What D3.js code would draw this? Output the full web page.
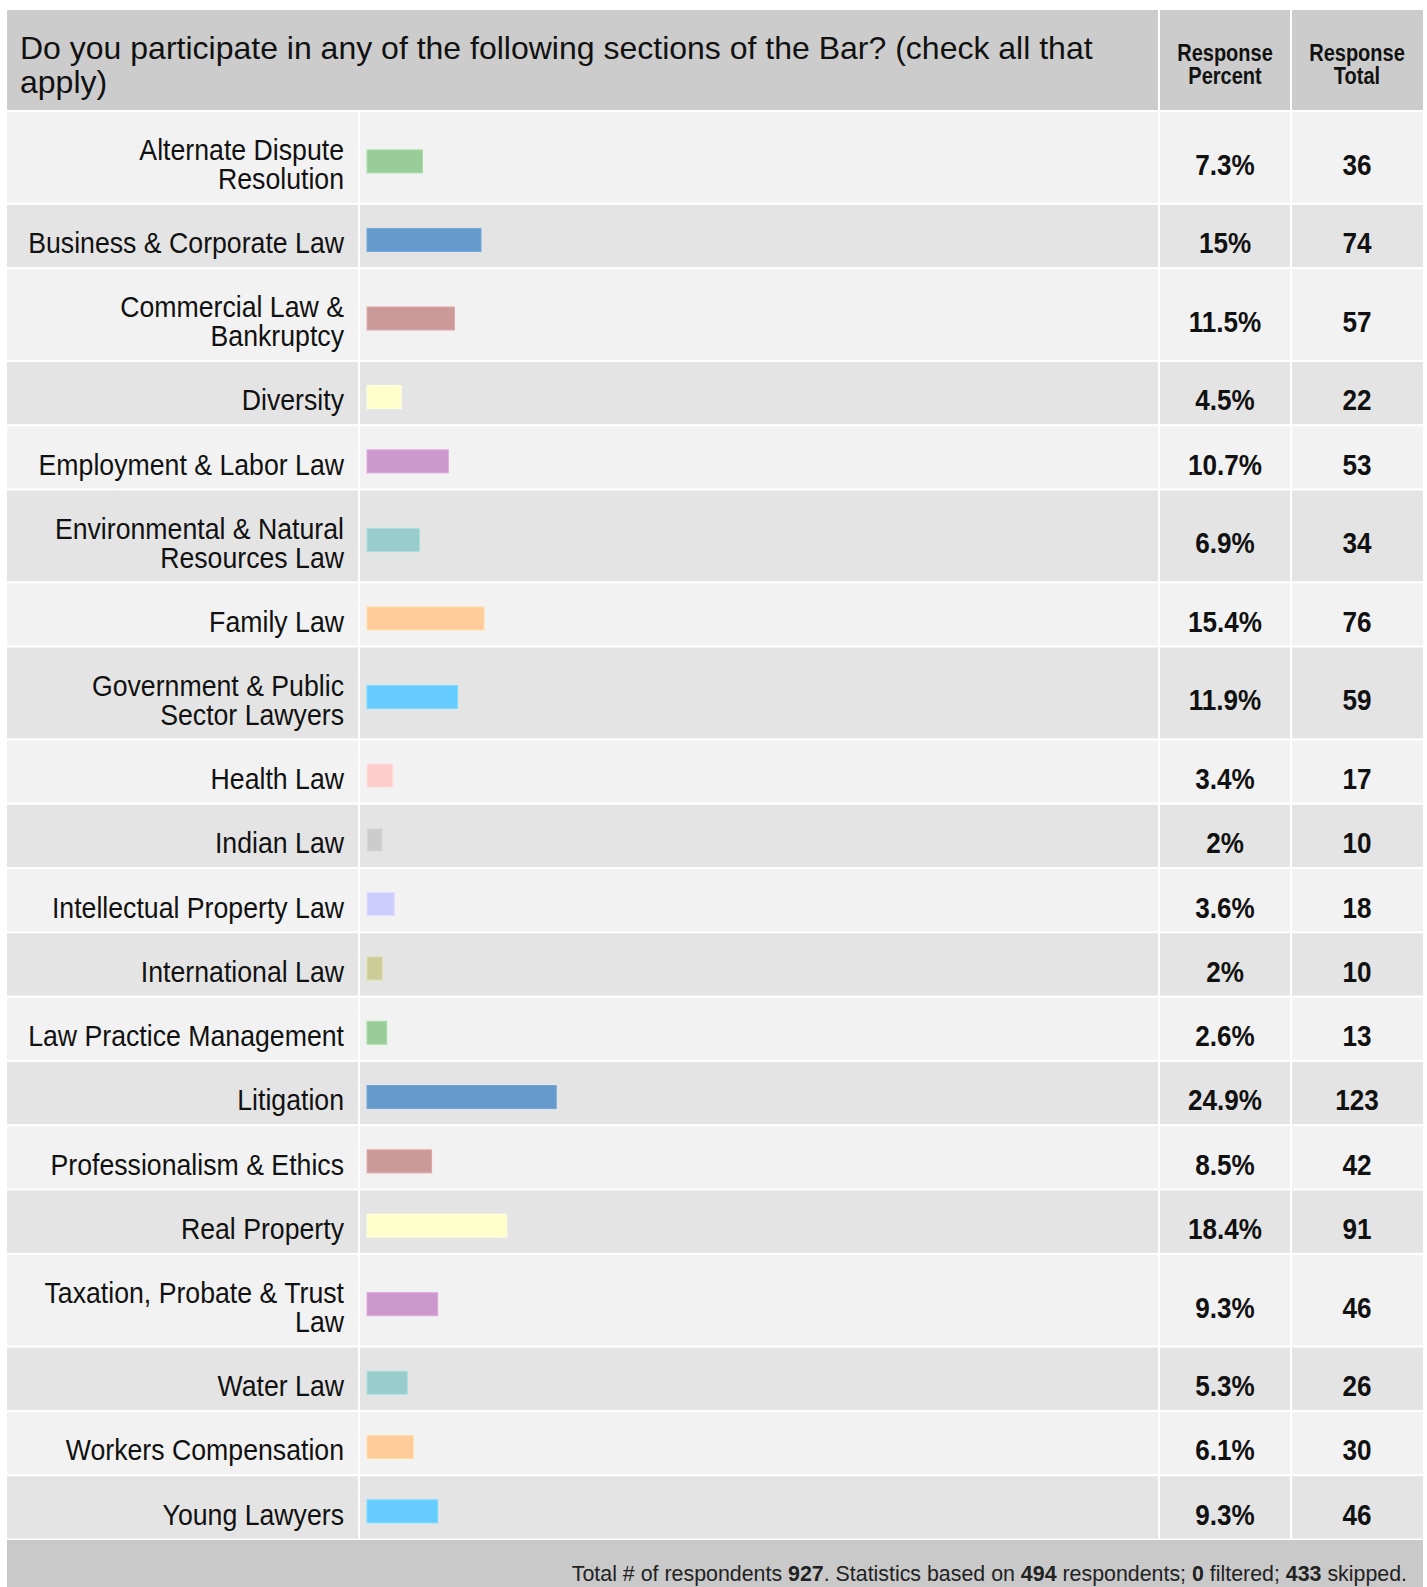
<!DOCTYPE html>
<html>
<head>
<meta charset="utf-8">
<script src="https://cdn.jsdelivr.net/npm/d3@7"></script>
<style>
  html, body { margin: 0; padding: 0; background: #ffffff; }
  svg { display: block; }
  text { font-family: "Liberation Sans", Arial, Helvetica, sans-serif; }
</style>
</head>
<body>
<svg id="chart" width="1427" height="1587"></svg>
<script>
// Survey question and its answer options
const question = "Do you participate in any of the following sections of the Bar? (check all that apply)";
const categories = [
  "Alternate Dispute Resolution",
  "Business & Corporate Law",
  "Commercial Law & Bankruptcy",
  "Diversity",
  "Employment & Labor Law",
  "Environmental & Natural Resources Law",
  "Family Law",
  "Government & Public Sector Lawyers",
  "Health Law",
  "Indian Law",
  "Intellectual Property Law",
  "International Law",
  "Law Practice Management",
  "Litigation",
  "Professionalism & Ethics",
  "Real Property",
  "Taxation, Probate & Trust Law",
  "Water Law",
  "Workers Compensation",
  "Young Lawyers"
];
// Response percent (share of 494 respondents)
const percents = [7.3, 15, 11.5, 4.5, 10.7, 6.9, 15.4, 11.9, 3.4, 2, 3.6, 2, 2.6, 24.9, 8.5, 18.4, 9.3, 5.3, 6.1, 9.3];
// Response totals (counts)
const totals = [36, 74, 57, 22, 53, 34, 76, 59, 17, 10, 18, 10, 13, 123, 42, 91, 46, 26, 30, 46];
// Column headings
const columnHeads = [["Response", "Percent"], ["Response", "Total"]];
// Footer summary, split into regular / bold runs
const footerRuns = [
  ["Total # of respondents ", false], ["927", true], [". Statistics based on ", false],
  ["494", true], [" respondents; ", false], ["0", true], [" filtered; ", false],
  ["433", true], [" skipped.", false]
];
// Bar palette, cycled through the rows
const palette = ["#99cc99", "#6699cc", "#cc9999", "#ffffcc", "#cc99cc", "#99cccc",
                 "#ffcc99", "#66ccff", "#ffcccc", "#cccccc", "#ccccff", "#cccc99"];

// ---- layout ----
const W = 1427, H = 1587;
const left = 7, right = 1423;
const colLabelEnd = 359, colPctEnd = 1159, colTotEnd = 1291;
const headTop = 10, headBottom = 111;
const rowOneLine = 64.3, lineStep = 28.5;
const footTop = 1540;

const svg = d3.select("#chart");

// Body text is drawn slightly condensed horizontally
const labelFont = 29, labelSX = 0.92;
const valueFont = 29, valueSX = 0.9;

// measure helper for wrapping
const measurer = svg.append("text").attr("visibility", "hidden");
function measure(str, size, weight) {
  measurer.attr("font-size", size).attr("font-weight", weight || "normal").text(str);
  return measurer.node().getComputedTextLength();
}
function wrap(str, maxW, size, weight, sx) {
  const words = str.split(" ");
  const lines = [];
  let cur = "";
  words.forEach(w => {
    const t = cur ? cur + " " + w : w;
    if (cur && measure(t, size, weight) * sx > maxW) { lines.push(cur); cur = w; }
    else cur = t;
  });
  if (cur) lines.push(cur);
  return lines;
}

const labelLines = categories.map(c => wrap(c, 330, labelFont, "normal", labelSX));
const rows = [];
let yAcc = headBottom;
labelLines.forEach((lines, i) => {
  const h = rowOneLine + (lines.length - 1) * lineStep;
  rows.push({ i, y: yAcc, h, c: yAcc + h / 2, lines });
  yAcc += h;
});

// x scale for bars: 0–100%
const x = d3.scaleLinear().domain([0, 100]).range([367, 1127]);

// ---- header ----
svg.append("rect").attr("x", left).attr("y", headTop)
  .attr("width", right - left).attr("height", headBottom - headTop).attr("fill", "#cccccc");

const qLines = wrap(question, 1110, 32, "normal", 1);
svg.append("text").attr("x", 20).attr("y", 59)
  .attr("font-size", 32).attr("fill", "#111")
  .selectAll("tspan").data(qLines).join("tspan")
  .attr("x", 20).attr("dy", (d, i) => i === 0 ? 0 : 34).text(d => d);

const colCenters = [(colPctEnd + colTotEnd) / 2, (colTotEnd + right) / 2];
columnHeads.forEach((lines, k) => {
  svg.append("text")
    .attr("transform", `translate(${colCenters[k]},61) scale(0.87,1)`)
    .attr("text-anchor", "middle").attr("font-size", 23).attr("font-weight", "bold")
    .attr("fill", "#111")
    .selectAll("tspan").data(lines).join("tspan")
    .attr("x", 0).attr("dy", (d, j) => j === 0 ? 0 : 23).text(d => d);
});

// ---- rows ----
const rowG = svg.append("g");
rowG.selectAll("rect.rowbg").data(rows).join("rect").attr("class", "rowbg")
  .attr("x", left).attr("y", d => d.y + 1)
  .attr("width", right - left).attr("height", d => d.h - 2)
  .attr("fill", d => d.i % 2 === 0 ? "#f2f2f2" : "#e4e4e4");

// white column dividers
const divs = [colLabelEnd, colPctEnd, colTotEnd];
svg.append("g").selectAll("rect").data(divs).join("rect")
  .attr("x", d => d - 1).attr("y", (d, i) => i === 0 ? headBottom : headTop)
  .attr("width", 2).attr("height", (d, i) => footTop - (i === 0 ? headBottom : headTop))
  .attr("fill", "#ffffff");
// white line under the header
svg.append("rect").attr("x", left).attr("y", headBottom - 1).attr("width", right - left)
  .attr("height", 2).attr("fill", "#ffffff");

// category labels
rows.forEach(r => {
  const n = r.lines.length;
  rowG.append("text")
    .attr("transform", `translate(344,${r.c + 17.4 - (n - 1) / 2 * 29}) scale(${labelSX},1)`)
    .attr("text-anchor", "end").attr("font-size", labelFont).attr("fill", "#111")
    .selectAll("tspan").data(r.lines).join("tspan")
    .attr("x", 0).attr("dy", (d, j) => j === 0 ? 0 : 29).text(d => d);
});

// bars
rowG.selectAll("rect.bar").data(rows).join("rect").attr("class", "bar")
  .attr("x", x(0)).attr("y", d => d.c - 7.5)
  .attr("width", d => x(percents[d.i]) - x(0)).attr("height", 23)
  .attr("fill", d => palette[d.i % palette.length])
  .attr("stroke", d => d3.color(palette[d.i % palette.length]).brighter(0.25))
  .attr("stroke-width", 1);

// values
rows.forEach(r => {
  rowG.append("text")
    .attr("transform", `translate(${colCenters[0]},${r.c + 17.4}) scale(${valueSX},1)`)
    .attr("text-anchor", "middle").attr("font-size", valueFont).attr("font-weight", "bold")
    .attr("fill", "#111").text(percents[r.i] + "%");
  rowG.append("text")
    .attr("transform", `translate(${colCenters[1]},${r.c + 17.4}) scale(${valueSX},1)`)
    .attr("text-anchor", "middle").attr("font-size", valueFont).attr("font-weight", "bold")
    .attr("fill", "#111").text(totals[r.i]);
});

// ---- footer ----
svg.append("rect").attr("x", left).attr("y", footTop)
  .attr("width", right - left).attr("height", H - footTop).attr("fill", "#c9c9c9");
const foot = svg.append("text")
  .attr("transform", `translate(1407,1581) scale(0.93,1)`)
  .attr("text-anchor", "end").attr("font-size", 23).attr("fill", "#222");
foot.selectAll("tspan").data(footerRuns).join("tspan")
  .attr("font-weight", d => d[1] ? "bold" : "normal")
  .text(d => d[0]);

measurer.remove();
</script>
</body>
</html>
